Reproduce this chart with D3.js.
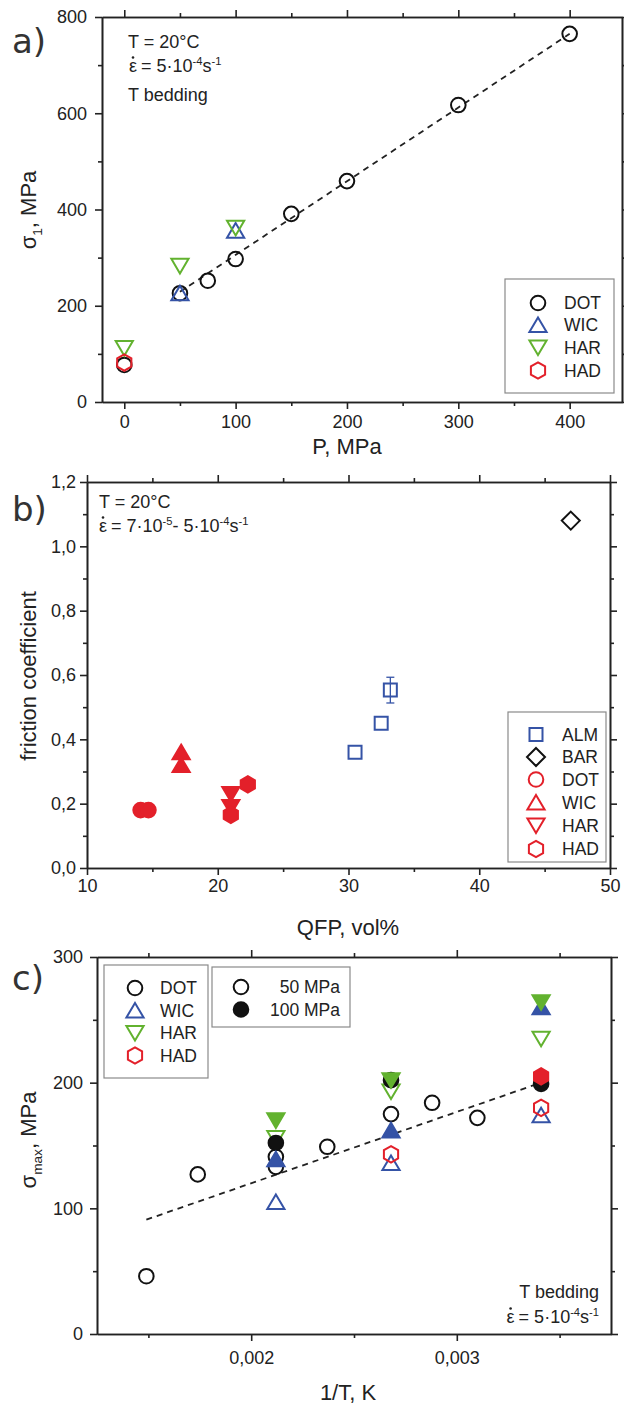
<!DOCTYPE html>
<html>
<head>
<meta charset="utf-8">
<script src="https://cdn.jsdelivr.net/npm/d3@7"></script>
<style>
  html, body { margin: 0; padding: 0; background: #fff; }
  svg { display: block; }
  text { font-family: "Liberation Sans", Arial, Helvetica, sans-serif; fill: #222; }
</style>
</head>
<body>
<svg id="fig" width="624" height="1407"></svg>
<script>
// ---------- Panel a: sigma_1 vs confining pressure ----------
const aDotP = [0, 50, 75, 100, 150, 200, 300, 400];
const aDotS = [77, 226, 252, 297, 391, 459, 617, 765];
const aWicP = [50, 100];
const aWicS = [226, 356];
const aHarP = [0, 50, 100];
const aHarS = [112, 283, 362];
const aHadP = [0];
const aHadS = [82];
const aFitP = [50, 400];
const aFitS = [229, 765];
const aXTicks = [0, 100, 200, 300, 400];
const aXMinor = [50, 150, 250, 350];
const aYTicks = [0, 200, 400, 600, 800];
const aYMinor = [100, 300, 500, 700];

// ---------- Panel b: friction coefficient vs QFP ----------
const bAlmQ = [30.5, 32.5, 33.2];
const bAlmF = [0.36, 0.45, 0.553];
const bAlmErr = [0, 0, 0.04];
const bBarQ = [47.0];
const bBarF = [1.08];
const bDotQ = [14.1, 14.7];
const bDotF = [0.18, 0.18];
const bWicQ = [17.2, 17.2];
const bWicF = [0.36, 0.32];
const bHarQ = [21.0, 21.0];
const bHarF = [0.23, 0.19];
const bHadQ = [22.3, 21.0];
const bHadF = [0.26, 0.165];
const bXTicks = [10, 20, 30, 40, 50];
const bXMinor = [15, 25, 35, 45];
const bYTicks = [0, 0.2, 0.4, 0.6, 0.8, 1.0, 1.2];
const bYMinor = [0.1, 0.3, 0.5, 0.7, 0.9, 1.1];

// ---------- Panel c: sigma_max vs 1/T ----------
const cDot50T = [0.00149, 0.00174, 0.00212, 0.00212, 0.00237, 0.00268, 0.00288, 0.00310];
const cDot50S = [46, 127, 133, 141, 149, 175, 184, 172];
const cWic50T = [0.00212, 0.00268, 0.00341];
const cWic50S = [105, 136, 174];
const cHar50T = [0.00212, 0.00268, 0.00341];
const cHar50S = [156, 193, 235];
const cHad50T = [0.00268, 0.00341];
const cHad50S = [143, 180];
const cDot100T = [0.00212, 0.00268, 0.00341];
const cDot100S = [152, 202, 199];
const cWic100T = [0.00212, 0.00268, 0.00341];
const cWic100S = [139, 162, 260];
const cHar100T = [0.00212, 0.00268, 0.00341];
const cHar100S = [170, 202, 264];
const cHad100T = [0.00341];
const cHad100S = [205];
const cFitT = [0.00149, 0.00341];
const cFitS = [91, 200];
const cXTicks = [0.002, 0.003];
const cXMinor = [0.0015, 0.0025, 0.0035];
const cYTicks = [0, 100, 200, 300];
const cYMinor = [50, 150, 250];

// ---------- colours ----------
const BLACK = "#111";
const BLUE = "#3553a6";
const GREEN = "#62b22f";
const RED = "#e3202a";

const svg = d3.select("#fig");
const comma = d3.formatLocale({ decimal: ",", thousands: ".", grouping: [3], currency: ["", ""] });

// marker shapes (paths centred on 0,0)
function shapePath(type) {
  switch (type) {
    case "circle": {
      const p = d3.path(); p.arc(0, 0, 7.3, 0, 2 * Math.PI); p.closePath(); return p.toString();
    }
    case "up": return "M0,-7.6L8.6,7L-8.6,7Z";
    case "down": return "M0,7.6L8.6,-7L-8.6,-7Z";
    case "hex": {
      const r = 8.2;
      const pts = d3.range(6).map(i => {
        const a = (-90 + 60 * i) * Math.PI / 180;
        return [r * Math.cos(a), r * Math.sin(a)];
      });
      return "M" + pts.map(p => p.join(",")).join("L") + "Z";
    }
    case "square": return "M-6.5,-6.5H6.5V6.5H-6.5Z";
    case "diamond": return "M0,-9L9,0L0,9L-9,0Z";
  }
}

function drawMarkers(g, x, y, xs, ys, type, color, filled) {
  g.append("g").selectAll("path")
    .data(xs.map((d, i) => [d, ys[i]]))
    .join("path")
    .attr("d", shapePath(type))
    .attr("transform", d => `translate(${x(d[0])},${y(d[1])})`)
    .attr("fill", filled ? color : "none")
    .attr("stroke", color)
    .attr("stroke-width", 2);
}

function legendMarker(g, cx, cy, type, color, filled) {
  g.append("path")
    .attr("d", shapePath(type))
    .attr("transform", `translate(${cx},${cy})`)
    .attr("fill", filled ? color : "none")
    .attr("stroke", color)
    .attr("stroke-width", 2);
}

function styleAxis(sel, fontSize) {
  sel.select(".domain").attr("stroke", "#222").attr("stroke-width", 1.6);
  sel.selectAll(".tick line").attr("stroke", "#222").attr("stroke-width", 1.6);
  sel.selectAll(".tick text")
    .attr("fill", "#222")
    .style("font-family", '"Liberation Sans", Arial, sans-serif')
    .style("font-size", fontSize + "px");
}

function frameAxes(x, y, o) {
  const [xl, xr] = x.range();
  const [yb, yt] = y.range();
  const g = svg.append("g");
  // minor ticks
  g.append("g").attr("transform", `translate(0,${yb})`)
    .call(d3.axisBottom(x).tickValues(o.xMinor).tickSize(4).tickSizeOuter(0).tickFormat(""))
    .call(s => styleAxis(s, 18));
  g.append("g").attr("transform", `translate(${xl},0)`)
    .call(d3.axisLeft(y).tickValues(o.yMinor).tickSize(4).tickSizeOuter(0).tickFormat(""))
    .call(s => styleAxis(s, 18));
  g.append("g").attr("transform", `translate(0,${yt})`)
    .call(d3.axisTop(x).tickValues(o.xMinor).tickSize(4).tickSizeOuter(0).tickFormat(""))
    .call(s => styleAxis(s, 18));
  g.append("g").attr("transform", `translate(${xr},0)`)
    .call(d3.axisRight(y).tickValues(o.yMinor).tickSize(4).tickSizeOuter(0).tickFormat(""))
    .call(s => styleAxis(s, 18));
  // major ticks
  g.append("g").attr("transform", `translate(0,${yb})`)
    .call(d3.axisBottom(x).tickValues(o.xMajor).tickSize(7).tickSizeOuter(0).tickPadding(o.xPad).tickFormat(o.xFmt))
    .call(s => styleAxis(s, 18));
  g.append("g").attr("transform", `translate(${xl},0)`)
    .call(d3.axisLeft(y).tickValues(o.yMajor).tickSize(7).tickSizeOuter(0).tickPadding(o.yPad).tickFormat(o.yFmt))
    .call(s => styleAxis(s, 18));
  g.append("g").attr("transform", `translate(0,${yt})`)
    .call(d3.axisTop(x).tickValues(o.xMajor).tickSize(7).tickSizeOuter(0).tickFormat(""))
    .call(s => styleAxis(s, 18));
  g.append("g").attr("transform", `translate(${xr},0)`)
    .call(d3.axisRight(y).tickValues(o.yMajor).tickSize(7).tickSizeOuter(0).tickFormat(""))
    .call(s => styleAxis(s, 18));
}

// text with superscript / subscript pieces
function richText(g, x, yb, parts, opts = {}) {
  const size = opts.size || 18;
  const t = g.append("text")
    .attr("x", x).attr("y", yb)
    .style("font-size", size + "px")
    .attr("text-anchor", opts.anchor || "start");
  if (opts.rotate) t.attr("transform", `rotate(-90,${x},${yb})`);
  let shift = 0;
  parts.forEach(p => {
    const target = p.sup ? -size * 0.38 : p.sub ? size * 0.28 : 0;
    t.append("tspan")
      .attr("dy", target - shift)
      .style("font-size", (p.sup || p.sub) ? (size * 0.62) + "px" : size + "px")
      .text(p.t);
    shift = target;
  });
  return t;
}

// epsilon-dot strain-rate label: dotted epsilon followed by the rest
function strainRate(g, x, yb, parts, anchor) {
  const grp = g.append("g");
  const eps = grp.append("text").attr("x", 0).attr("y", yb).style("font-size", "18px").text("ε");
  const ew = eps.node().getComputedTextLength();
  grp.append("circle").attr("cx", ew / 2).attr("cy", yb - 14.5).attr("r", 1.3).attr("fill", "#222");
  const rest = richText(grp, ew + 4, yb, parts, { size: 18 });
  if (anchor === "end") {
    const total = ew + 4 + rest.node().getComputedTextLength();
    grp.attr("transform", `translate(${x - total},0)`);
  } else {
    grp.attr("transform", `translate(${x},0)`);
  }
}

function panelLabel(x, yb, s) {
  svg.append("text").attr("x", x).attr("y", yb)
    .style("font-family", '"DejaVu Sans", Verdana, sans-serif')
    .style("font-size", "34px").style("fill", "#333")
    .text(s);
}

function legendBox(x0, y0, x1, y1) {
  svg.append("rect").attr("x", x0).attr("y", y0).attr("width", x1 - x0).attr("height", y1 - y0)
    .attr("fill", "#fff").attr("stroke", "#8a8a8a").attr("stroke-width", 1.2);
}

function legendText(x, cy, s, anchor) {
  svg.append("text").attr("x", x).attr("y", cy + 6.3)
    .attr("text-anchor", anchor || "start")
    .style("font-size", "17.5px").text(s);
}

const dashed = "6,5";
const TITLE = 22;

// =============== Panel a ===============
{
  const x = d3.scaleLinear().domain([-20, 447]).range([102, 622]);
  const y = d3.scaleLinear().domain([0, 800]).range([402, 17]);
  const g = svg.append("g");
  frameAxes(x, y, { xMajor: aXTicks, xMinor: aXMinor, yMajor: aYTicks, yMinor: aYMinor,
    xFmt: d3.format("d"), yFmt: d3.format("d"), xPad: 6, yPad: 8 });

  g.append("path")
    .attr("d", d3.line().x(d => x(d[0])).y(d => y(d[1]))(aFitP.map((p, i) => [p, aFitS[i]])))
    .attr("fill", "none").attr("stroke", "#222").attr("stroke-width", 1.8).attr("stroke-dasharray", dashed);

  drawMarkers(g, x, y, aDotP, aDotS, "circle", BLACK, false);
  drawMarkers(g, x, y, aWicP, aWicS, "up", BLUE, false);
  drawMarkers(g, x, y, aHarP, aHarS, "down", GREEN, false);
  drawMarkers(g, x, y, aHadP, aHadS, "hex", RED, false);

  richText(svg, 128, 48, [{ t: "T = 20°C" }]);
  strainRate(svg, 129, 72, [{ t: "= 5·10" }, { t: "-4", sup: true }, { t: "s" }, { t: "-1", sup: true }]);
  richText(svg, 128, 101, [{ t: "T bedding" }]);

  legendBox(505, 279, 614, 393);
  const rows = [303, 325, 347.5, 370.5];
  [["DOT", "circle", BLACK], ["WIC", "up", BLUE], ["HAR", "down", GREEN], ["HAD", "hex", RED]]
    .forEach((d, i) => { legendMarker(svg, 538, rows[i], d[1], d[2], false); legendText(564, rows[i], d[0]); });

  richText(svg, 36, 210, [{ t: "σ" }, { t: "1", sub: true }, { t: ", MPa" }], { size: TITLE, anchor: "middle", rotate: true });
  richText(svg, 347, 454, [{ t: "P, MPa" }], { size: TITLE, anchor: "middle" });
  panelLabel(12, 53, "a)");
}

// =============== Panel b ===============
{
  const x = d3.scaleLinear().domain([10, 50]).range([87, 610]);
  const y = d3.scaleLinear().domain([0, 1.2]).range([868, 482]);
  const g = svg.append("g");
  frameAxes(x, y, { xMajor: bXTicks, xMinor: bXMinor, yMajor: bYTicks, yMinor: bYMinor,
    xFmt: d3.format("d"), yFmt: comma.format(".1f"), xPad: 4, yPad: 4 });

  // error bars
  const eb = g.append("g").attr("stroke", BLUE).attr("stroke-width", 1.3);
  bAlmQ.forEach((q, i) => {
    if (!bAlmErr[i]) return;
    const cx = x(q), t = y(bAlmF[i] + bAlmErr[i]), b = y(bAlmF[i] - bAlmErr[i]);
    eb.append("line").attr("x1", cx).attr("x2", cx).attr("y1", t).attr("y2", b);
    eb.append("line").attr("x1", cx - 4).attr("x2", cx + 4).attr("y1", t).attr("y2", t);
    eb.append("line").attr("x1", cx - 4).attr("x2", cx + 4).attr("y1", b).attr("y2", b);
  });
  drawMarkers(g, x, y, bAlmQ, bAlmF, "square", BLUE, false);
  drawMarkers(g, x, y, bBarQ, bBarF, "diamond", BLACK, false);
  drawMarkers(g, x, y, bDotQ, bDotF, "circle", RED, true);
  drawMarkers(g, x, y, bWicQ, bWicF, "up", RED, true);
  drawMarkers(g, x, y, bHarQ, bHarF, "down", RED, true);
  drawMarkers(g, x, y, bHadQ, bHadF, "hex", RED, true);

  richText(svg, 99, 508, [{ t: "T = 20°C" }]);
  strainRate(svg, 99, 532, [{ t: "= 7·10" }, { t: "-5", sup: true }, { t: "- 5·10" }, { t: "-4", sup: true }, { t: "s" }, { t: "-1", sup: true }]);

  legendBox(508, 712, 606, 862);
  const rows = [734.5, 757, 779.5, 802.5, 825.5, 849];
  [["ALM", "square", BLUE], ["BAR", "diamond", BLACK], ["DOT", "circle", RED], ["WIC", "up", RED], ["HAR", "down", RED], ["HAD", "hex", RED]]
    .forEach((d, i) => { legendMarker(svg, 536, rows[i], d[1], d[2], false); legendText(562, rows[i], d[0]); });

  richText(svg, 36, 676, [{ t: "friction coefficient" }], { size: TITLE, anchor: "middle", rotate: true });
  richText(svg, 348, 935, [{ t: "QFP, vol%" }], { size: TITLE, anchor: "middle" });
  panelLabel(12, 521, "b)");
}

// =============== Panel c ===============
{
  const x = d3.scaleLinear().domain([0.00125, 0.00375]).range([97, 611]);
  const y = d3.scaleLinear().domain([0, 300]).range([1334, 957]);
  const g = svg.append("g");
  frameAxes(x, y, { xMajor: cXTicks, xMinor: cXMinor, yMajor: cYTicks, yMinor: cYMinor,
    xFmt: comma.format(".3f"), yFmt: d3.format("d"), xPad: 10, yPad: 7 });

  g.append("path")
    .attr("d", d3.line().x(d => x(d[0])).y(d => y(d[1]))(cFitT.map((t, i) => [t, cFitS[i]])))
    .attr("fill", "none").attr("stroke", "#222").attr("stroke-width", 1.8).attr("stroke-dasharray", dashed);

  drawMarkers(g, x, y, cDot50T, cDot50S, "circle", BLACK, false);
  drawMarkers(g, x, y, cWic50T, cWic50S, "up", BLUE, false);
  drawMarkers(g, x, y, cHar50T, cHar50S, "down", GREEN, false);
  drawMarkers(g, x, y, cHad50T, cHad50S, "hex", RED, false);
  drawMarkers(g, x, y, cDot100T, cDot100S, "circle", BLACK, true);
  drawMarkers(g, x, y, cWic100T, cWic100S, "up", BLUE, true);
  drawMarkers(g, x, y, cHar100T, cHar100S, "down", GREEN, true);
  drawMarkers(g, x, y, cHad100T, cHad100S, "hex", RED, true);

  legendBox(104, 965, 208, 1078);
  const rows = [988, 1010.5, 1033, 1055.5];
  [["DOT", "circle", BLACK], ["WIC", "up", BLUE], ["HAR", "down", GREEN], ["HAD", "hex", RED]]
    .forEach((d, i) => { legendMarker(svg, 135, rows[i], d[1], d[2], false); legendText(160, rows[i], d[0]); });

  legendBox(212, 967, 350, 1027);
  legendMarker(svg, 241, 987, "circle", BLACK, false);
  legendText(340, 987, "50 MPa", "end");
  legendMarker(svg, 241, 1009.5, "circle", BLACK, true);
  legendText(340, 1009.5, "100 MPa", "end");

  richText(svg, 599, 1298, [{ t: "T bedding" }], { anchor: "end" });
  strainRate(svg, 599, 1323, [{ t: "= 5·10" }, { t: "-4", sup: true }, { t: "s" }, { t: "-1", sup: true }], "end");

  richText(svg, 36, 1140, [{ t: "σ" }, { t: "max", sub: true }, { t: ", MPa" }], { size: TITLE, anchor: "middle", rotate: true });
  richText(svg, 348, 1400, [{ t: "1/T, K" }], { size: TITLE, anchor: "middle" });
  panelLabel(12, 990, "c)");
}
</script>
</body>
</html>
